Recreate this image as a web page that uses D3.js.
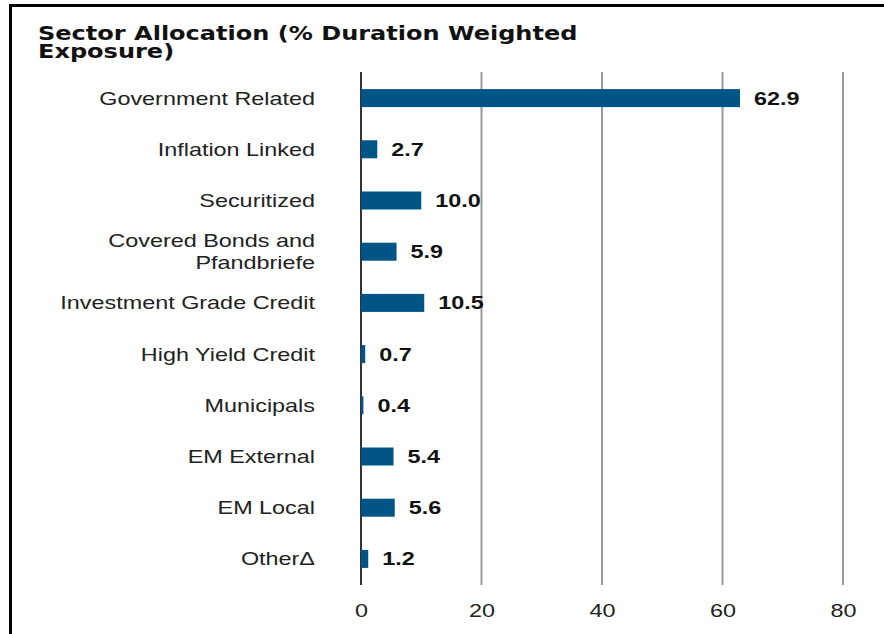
<!DOCTYPE html>
<html>
<head>
<meta charset="utf-8">
<script src="https://cdn.jsdelivr.net/npm/d3@7"></script>
<style>
  body { margin: 0; background: #fff; }
  svg { display: block; }
</style>
</head>
<body>
<script>
var categories = ["Government Related", "Inflation Linked", "Securitized", "Covered Bonds and|Pfandbriefe",
                  "Investment Grade Credit", "High Yield Credit", "Municipals", "EM External", "EM Local", "Other\u0394"];
var values = [62.9, 2.7, 10.0, 5.9, 10.5, 0.7, 0.4, 5.4, 5.6, 1.2];
var tickValues = [0, 20, 40, 60, 80];

var W = 884, H = 634,
    barH = 18,
    sx = 1.3; // text in the source is drawn wide

var data = categories.map(function(c, i) { return {name: c, value: values[i]}; });

var svg = d3.select("body").append("svg")
    .attr("width", W)
    .attr("height", H);

// frame (top + left only)
svg.append("path")
    .attr("d", "M10.5,634 L10.5,5.5 L884,5.5")
    .attr("fill", "none")
    .attr("stroke", "#000")
    .attr("stroke-width", 3);

// title
var title = svg.append("text")
    .attr("transform", "translate(38,0) scale(1.265,1)")
    .style("font-family", "'DejaVu Sans', sans-serif")
    .style("font-weight", "bold")
    .style("font-size", "19px")
    .attr("fill", "#111");
title.append("tspan").attr("x", 0).attr("y", 40).text("Sector Allocation (% Duration Weighted");
title.append("tspan").attr("x", 0).attr("y", 58).text("Exposure)");

// scales
var x = d3.scaleLinear().domain([0, 80]).range([361, 843]);
var y = d3.scaleBand().domain(categories).range([72.5, 584.5]).padding(0);

// grid lines
svg.append("g")
  .selectAll("line")
  .data(tickValues)
  .enter().append("line")
    .attr("x1", function(d) { return x(d); })
    .attr("x2", function(d) { return x(d); })
    .attr("y1", 72)
    .attr("y2", 585)
    .attr("stroke", function(d) { return d === 0 ? "#333" : "#999"; })
    .attr("stroke-width", 2);

// x axis tick labels
var xAxis = svg.append("g")
    .attr("transform", "translate(0,585)")
    .call(d3.axisBottom(x).tickValues(tickValues).tickSize(0).tickPadding(19));
xAxis.select(".domain").remove();
xAxis.selectAll("text")
    .attr("transform", "scale(" + sx + ",1)")
    .style("font-family", "'Liberation Sans', Arial, sans-serif")
    .style("font-size", "18px")
    .attr("fill", "#222");

// bars
svg.append("g")
  .selectAll("rect")
  .data(data)
  .enter().append("rect")
    .attr("x", x(0))
    .attr("y", function(d) { return y(d.name) + (y.bandwidth() - barH) / 2; })
    .attr("width", function(d) { return x(d.value) - x(0); })
    .attr("height", barH)
    .attr("fill", "#005587");

// value labels
svg.append("g")
  .selectAll("text")
  .data(data)
  .enter().append("text")
    .attr("transform", function(d) {
      return "translate(" + (x(d.value) + 14) + "," + (y(d.name) + y.bandwidth() / 2) + ") scale(" + sx + ",1)";
    })
    .attr("dy", "0.36em")
    .style("font-family", "'Liberation Sans', Arial, sans-serif")
    .style("font-weight", "bold")
    .style("font-size", "18px")
    .attr("fill", "#111")
    .text(function(d) { return d.value.toFixed(1); });

// category labels
var labels = svg.append("g")
  .selectAll("text")
  .data(data)
  .enter().append("text")
    .attr("text-anchor", "end")
    .attr("transform", function(d) {
      return "translate(315," + (y(d.name) + y.bandwidth() / 2) + ") scale(" + sx + ",1)";
    })
    .style("font-family", "'Liberation Sans', Arial, sans-serif")
    .style("font-size", "18px")
    .attr("fill", "#222");

labels.each(function(d) {
  var lines = d.name.split("|");
  var t = d3.select(this);
  lines.forEach(function(l, i) {
    t.append("tspan")
      .attr("x", 0)
      .attr("dy", i === 0 ? (0.36 - (lines.length - 1) * 0.6) + "em" : "1.2em")
      .text(l);
  });
});
</script>
</body>
</html>
